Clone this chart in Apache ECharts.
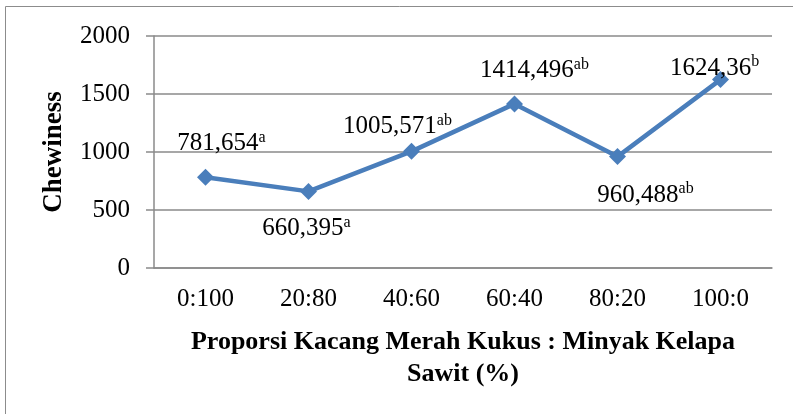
<!DOCTYPE html>
<html>
<head>
<meta charset="utf-8">
<script src="https://cdn.jsdelivr.net/npm/echarts@6/dist/echarts.min.js"></script>
<style>
  html, body { margin: 0; padding: 0; background: #fff; }
  #main { width: 793px; height: 414px; }
</style>
</head>
<body>
<div id="main"></div>
<script>
// data
var categories = ["0:100", "20:80", "40:60", "60:40", "80:20", "100:0"];
var chewiness = [781.654, 660.395, 1005.571, 1414.496, 960.488, 1624.36];
var notations = ["a", "a", "ab", "ab", "ab", "b"];
var yTicks = [0, 500, 1000, 1500, 2000];

// label placement per point (style only)
var labelPos = ["top", "bottom", "top", "top", "bottom", "top"];
var labelOffsets = [[16, -6], [-2, 10], [-14, 3], [20, -6], [28, 11], [-6, 16]];

var chart = echarts.init(document.getElementById("main"));

var seriesData = chewiness.map(function (v, i) {
    return {
        value: v,
        label: { position: labelPos[i], offset: labelOffsets[i] }
    };
});

chart.setOption({
    animation: false,
    textStyle: { fontFamily: "Liberation Serif" },
    graphic: [{
        type: "rect",
        shape: { x: 5.5, y: 6.5, width: 900, height: 500 },
        style: { fill: "none", stroke: "#8c8c8c", lineWidth: 1 },
        silent: true
    }],
    grid: { left: 154, right: 21, top: 36, bottom: 146 },
    xAxis: {
        type: "category",
        data: categories,
        boundaryGap: true,
        axisLine: { lineStyle: { color: "#8a8a8a", width: 1.5 } },
        axisTick: { show: false },
        axisLabel: { color: "#000", fontSize: 25, margin: 19, fontFamily: "Liberation Serif" },
        name: "Proporsi Kacang Merah Kukus : Minyak Kelapa\nSawit (%)",
        nameLocation: "middle",
        nameGap: 58,
        nameTextStyle: { color: "#000", fontSize: 26, fontWeight: "bold", lineHeight: 32, fontFamily: "Liberation Serif" }
    },
    yAxis: {
        type: "value",
        min: yTicks[0],
        max: yTicks[yTicks.length - 1],
        interval: 500,
        axisLine: { show: true, lineStyle: { color: "#8a8a8a", width: 1.5 } },
        axisTick: { show: true, length: 8, lineStyle: { color: "#8a8a8a", width: 1.5 } },
        splitLine: { lineStyle: { color: "#8a8a8a", width: 1.5 } },
        axisLabel: {
            color: "#000", fontSize: 25, margin: 24, fontFamily: "Liberation Serif",
            formatter: function (v) { return String(v); }
        },
        name: "Chewiness",
        nameLocation: "middle",
        nameGap: 86,
        nameTextStyle: { color: "#000", fontSize: 27, fontWeight: "bold", fontFamily: "Liberation Serif" }
    },
    series: [{
        type: "line",
        data: seriesData,
        symbol: "diamond",
        symbolSize: 17,
        lineStyle: { color: "#4a7ebb", width: 4.5 },
        itemStyle: { color: "#4a7ebb" },
        label: {
            show: true,
            formatter: function (p) {
                return "{v|" + String(p.value).replace(".", ",") + "}{s|" + notations[p.dataIndex] + "}";
            },
            rich: {
                v: { fontSize: 25, color: "#000", fontFamily: "Liberation Serif", lineHeight: 28 },
                s: { fontSize: 16, color: "#000", fontFamily: "Liberation Serif", verticalAlign: "top", lineHeight: 16 }
            }
        }
    }]
});
</script>
</body>
</html>
